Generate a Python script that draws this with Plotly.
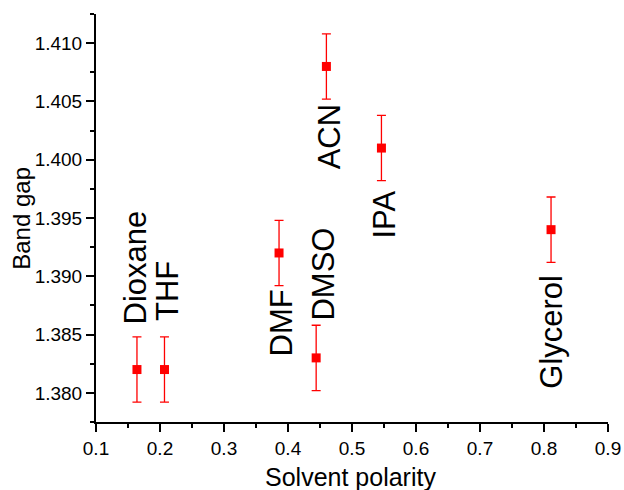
import plotly.graph_objects as go

solvents = ["Dioxane", "THF", "DMF", "DMSO", "ACN", "IPA", "Glycerol"]
polarity = [0.164, 0.207, 0.386, 0.444, 0.460, 0.546, 0.811]
band_gap = [1.382, 1.382, 1.392, 1.383, 1.408, 1.401, 1.394]
band_gap_err = [0.0028, 0.0028, 0.0028, 0.0028, 0.0028, 0.0028, 0.0028]

x_title = "Solvent polarity"
y_title = "Band gap"

# label placement relative to each point (pixels)
label_side = ["above", "above", "below", "above", "below", "below", "below"]
label_dx = [-1, 3, 2, 7, 4, 3, 1]
label_dy = [43, 47, -35, 35, -36, -40, -43]

FONT = "Arial, Liberation Sans, sans-serif"

fig = go.Figure()
fig.add_trace(go.Scatter(
    x=polarity, y=band_gap, mode="markers",
    marker=dict(symbol="square", size=9, color="#ff0000"),
    error_y=dict(type="data", array=band_gap_err, visible=True,
                 color="#ff0000", thickness=1.3, width=4.5),
    showlegend=False, hoverinfo="skip",
))

for name, xv, yv, side, dx, dy in zip(solvents, polarity, band_gap, label_side, label_dx, label_dy):
    fig.add_annotation(
        x=xv, y=yv, text=name, showarrow=False, textangle=-90,
        xanchor="center", yanchor="bottom" if side == "above" else "top",
        xshift=dx, yshift=dy,
        font=dict(family=FONT, size=31, color="black"),
    )

# axis titles
fig.add_annotation(
    x=0.498, y=-0.095, xref="paper", yref="paper", text=x_title, showarrow=False,
    xanchor="center", yanchor="top",
    font=dict(family=FONT, size=25, color="black"),
)
fig.add_annotation(
    x=-0.147, y=0.5, xref="paper", yref="paper", text=y_title, showarrow=False,
    textangle=-90, xanchor="center", yanchor="middle",
    font=dict(family=FONT, size=24, color="black"),
)

axis_common = dict(
    showline=True, linecolor="black", linewidth=2, mirror=False,
    ticks="outside", ticklen=8, tickwidth=1.5, tickcolor="black",
    showgrid=False, zeroline=False, automargin=False,
    tickfont=dict(family=FONT, size=19, color="black"),
)

fig.update_xaxes(
    range=[0.1, 0.9], dtick=0.1, tick0=0.1, tickformat=".1f",
    minor=dict(dtick=0.05, ticks="outside", ticklen=4, tickwidth=1.5, tickcolor="black"),
    **axis_common,
)
fig.update_yaxes(
    range=[1.3775, 1.4125], dtick=0.005, tick0=1.38, tickformat=".3f",
    minor=dict(dtick=0.0025, ticks="outside", ticklen=4, tickwidth=1.5, tickcolor="black"),
    **axis_common,
)

fig.update_layout(
    width=624, height=490,
    margin=dict(l=96, r=16, t=14, b=68),
    plot_bgcolor="white", paper_bgcolor="white",
)

fig.write_html("out.html", config={"displayModeBar": False},
               post_script="document.body.style.margin='0px';document.body.style.overflow='hidden';")
